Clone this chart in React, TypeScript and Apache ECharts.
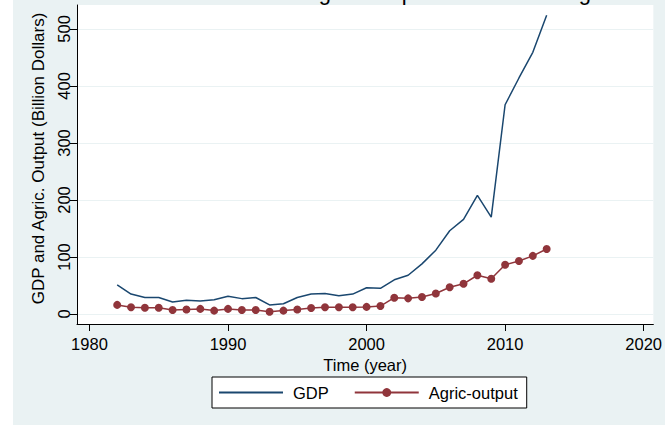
import React, { useEffect, useRef } from "react";
import * as echarts from "echarts";

const years = [1982, 1983, 1984, 1985, 1986, 1987, 1988, 1989, 1990, 1991, 1992, 1993, 1994, 1995, 1996, 1997, 1998, 1999, 2000, 2001, 2002, 2003, 2004, 2005, 2006, 2007, 2008, 2009, 2010, 2011, 2012, 2013];
const gdp = [51, 35, 29, 29, 21, 24, 23, 25, 31, 27, 29, 16, 18, 29, 35, 36, 32, 35, 46, 45, 60, 68, 88, 112, 146, 166, 208, 170, 367, 414, 459, 524];
const agric = [16, 12, 11, 11, 7, 8, 9, 6, 9, 7, 7, 4, 6, 8, 10.5, 12, 12, 12, 12.5, 14, 28.6, 27.5, 30, 36, 47, 53, 68, 62, 86.5, 93, 102, 114];
const xTicks = [1980, 1990, 2000, 2010, 2020];
const yTicks = [0, 100, 200, 300, 400, 500];
const titleText = "Trend of Agric. Output and GDP in Nigeria";
const xName = "Time (year)";
const yName = "GDP and Agric. Output (Billion Dollars)";

const FONT = "'Liberation Sans', Arial, Helvetica, sans-serif";

export default function App() {
  const ref = useRef<HTMLDivElement>(null);
  useEffect(() => {
    if (!ref.current) return;
    const chart = echarts.init(ref.current, undefined, { renderer: "svg" });
    chart.setOption({
      animation: false,
      textStyle: { fontFamily: FONT },
      graphic: [
        {
          type: "rect",
          z: -100,
          silent: true,
          shape: { x: 13, y: 0, width: 652, height: 425 },
          style: { fill: "#EAF2F3" },
        },
        {
          type: "text",
          x: 218,
          y: -8,
          silent: true,
          style: {
            text: titleText,
            fontFamily: FONT,
            fontSize: 22,
            fill: "#000",
            textAlign: "left",
            textVerticalAlign: "middle",
          },
        },
      ],
      grid: {
        left: 77,
        right: 9,
        top: 5,
        bottom: 101,
        show: true,
        backgroundColor: "#fff",
        borderWidth: 0,
      },
      legend: {
        left: 212,
        top: 377,
        orient: "horizontal",
        itemWidth: 64,
        itemHeight: 11,
        itemGap: 25,
        padding: [7, 9, 7, 6],
        backgroundColor: "#fff",
        borderColor: "#000",
        borderWidth: 1,
        borderRadius: 0,
        textStyle: { fontSize: 16.5, color: "#000", fontFamily: FONT, padding: [0, 0, 0, 5] },
        data: [
          { name: "GDP", itemStyle: { opacity: 0 } },
          { name: "Agric-output" },
        ],
      },
      xAxis: {
        type: "value",
        min: 1979.1,
        max: 2020.7,
        name: xName,
        nameLocation: "middle",
        nameGap: 22,
        nameTextStyle: { fontSize: 16.5, color: "#000", fontFamily: FONT },
        axisLine: { show: true, onZero: false, lineStyle: { color: "#000", width: 1 } },
        axisTick: { show: true, length: 7, customValues: xTicks, lineStyle: { color: "#000" } },
        axisLabel: {
          customValues: xTicks,
          margin: 11,
          fontSize: 16.5,
          color: "#000",
          fontFamily: FONT,
          formatter: (v: number) => String(v),
        },
        splitLine: { show: false },
      },
      yAxis: {
        type: "value",
        min: -17.5,
        max: 542,
        name: yName,
        nameLocation: "middle",
        nameRotate: 90,
        nameGap: 27,
        nameTextStyle: { fontSize: 17, color: "#000", fontFamily: FONT, padding: [0, 0, 0, 12] },
        axisLine: { show: true, onZero: false, lineStyle: { color: "#000", width: 1 } },
        axisTick: { show: true, length: 7, customValues: yTicks, lineStyle: { color: "#000" } },
        axisLabel: {
          customValues: yTicks,
          rotate: 90,
          margin: 5,
          fontSize: 16.5,
          color: "#000",
          fontFamily: FONT,
        },
        splitLine: { show: true, lineStyle: { color: "#EAF2F3", width: 1 } },
      },
      series: [
        {
          name: "GDP",
          type: "line",
          data: years.map((y, i) => [y, gdp[i]]),
          symbol: "none",
          lineStyle: { color: "#1A476F", width: 1.5 },
          itemStyle: { color: "#1A476F" },
        },
        {
          name: "Agric-output",
          type: "line",
          data: years.map((y, i) => [y, agric[i]]),
          symbol: "circle",
          symbolSize: 8,
          lineStyle: { color: "#90353B", width: 1.5 },
          itemStyle: { color: "#90353B" },
        },
      ],
    });
    return () => chart.dispose();
  }, []);
  return (
    <div
      ref={ref}
      style={{ position: "fixed", left: 0, top: 0, width: 665, height: 425, background: "#fff" }}
    />
  );
}
